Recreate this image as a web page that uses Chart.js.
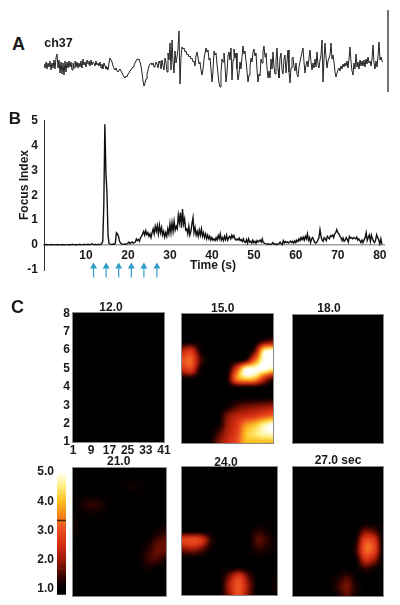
<!DOCTYPE html>
<html lang="en">
  <head>
    <meta charset="UTF-8" />
    <title>Focus index</title>
    <script src="https://cdn.jsdelivr.net/npm/chart.js@4"></script>
    <style>
      body {
        margin: 0;
        background: white;
        width: 400px;
        height: 605px;
        overflow: hidden;
        position: relative;
      }
      canvas {
        position: absolute;
      }
      .label {
        position: absolute;
        font-family: "Liberation Sans", sans-serif;
        font-weight: bold;
        color: #1a1a1a;
        white-space: nowrap;
        line-height: 1;
      }
    </style>
  </head>

  <body>
    <script>
      // ch37 trace, one value per pixel column of the picture
      const traceA = [
        1,-3,3,-4,2,-2,4,-5,2,-3,5,-4,7,
        11,-3,5,-8,3,-9,2,-10,4,-7,3,-3,4,-2,3,-5,2,-3,4,-2,3,
        -3,2,-2,4,-3,6,0,3,-2,5,1,4,-1,5,0,3,2,-1,4,0,2,-1,3,-3,1,-4,2,-1,-4,-2,-5,2,
        7,5,3,-1,-3,-5,-3,-6,-7,-5,-4,-6,-8,-10,-12,-13,-11,-12,-9,-8,-6,-5,-3,-2,0,2,4,6,6,5,
        3,-1,-8,-16,-21,-18,-14,-9,-5,-1,1,2,
        0,2,-2,-1,3,1,-3,4,2,-4,5,-1,-5,7,3,-7,12,5,22,-5,25,3,-8,14,2,8,16,34,-19,8,
        18,16,17,13,14,10,11,8,9,6,7,3,4,-1,9,13,8,1,3,-5,-10,-4,6,12,17,13,15,5,7,-4,
        -17,-6,14,10,12,1,-9,-18,-22,-7,6,3,12,-1,-17,-8,9,13,5,17,-15,5,16,7,12,-4,-15,-9,3,-4,
        8,19,11,14,4,-6,-17,-10,-2,7,3,13,16,9,12,-5,-17,-9,-11,6,2,14,19,8,12,-3,-13,-6,-13,6,
        -4,13,-2,-9,5,17,-4,-13,7,12,-5,-9,6,10,-8,4,15,-7,-18,-3,6,8,-2,-6,2,-9,-12,-2,3,8,
        13,17,3,-8,0,4,-2,7,15,3,-5,2,-3,6,-2,13,1,-3,5,10,25,-17,6,22,8,-3,4,7,10,22,
        6,10,3,-7,-12,-8,-5,-3,-6,-1,-4,1,-2,2,-1,4,-3,6,18,3,-6,-10,2,-4,11,-2,3,-4,5,-1,
        4,-1,5,-2,6,1,8,2,4,-1,6,20,2,-4,4,-2,9,23,5,8,4,3,
      ];
      const scaleBar = [55, -27];
      const scaleBarAt = 344;

      // focus index, four values per second from 0 to 80.5 s
      const focusIndex = [
        0.02,0.01,0.02,0.01,0.02,0.02,0.01,0.02,0.01,0.02,0.02,0.01,0.01,0.02,0.01,0.02,0.02,0.01,0.02,0.01,
        0.01,0.02,0.02,0.01,0.02,0.01,0.02,0.03,0.02,0.01,0.02,0.01,0.02,0.02,0.03,0.02,0.01,0.02,0.03,0.02,
        0.02,0.03,0.02,0.03,0.02,0.03,0.05,0.03,0.02,0.03,0.02,0.02,0.03,0.02,0.03,0.06,0.15,1.6,4.85,2.9,
        2.1,0.4,0.06,0.04,0.03,0.03,0.04,0.03,0.08,0.5,0.45,0.35,0.15,0.08,0.05,0.04,0.03,0.04,0.03,0.05,
        0.08,0.12,0.06,0.1,0.13,0.08,0.1,0.12,0.25,0.18,0.22,0.15,0.3,0.35,0.45,0.55,0.4,0.58,0.42,0.5,
        0.35,0.45,0.3,0.5,0.65,0.45,0.75,0.55,0.78,0.45,0.8,0.5,0.7,0.4,0.55,0.32,0.5,0.35,0.65,0.45,
        0.85,0.5,0.9,0.55,0.95,0.6,0.75,0.65,1.2,0.9,1.3,0.7,1.45,0.85,1.05,0.6,0.65,0.45,0.75,0.4,
        0.55,0.85,1.1,0.5,0.7,0.4,0.55,0.35,0.6,0.4,0.65,0.35,0.5,0.3,0.45,0.25,0.4,0.25,0.35,0.2,
        0.3,0.2,0.25,0.18,0.3,0.2,0.38,0.25,0.45,0.2,0.3,0.18,0.35,0.22,0.4,0.2,0.3,0.35,0.25,0.4,
        0.3,0.38,0.25,0.2,0.25,0.2,0.28,0.18,0.22,0.15,0.25,0.12,0.1,0.22,0.08,0.25,0.12,0.15,0.08,0.2,
        0.1,0.15,0.07,0.18,0.12,0.17,0.2,0.12,0.25,0.1,0.08,0.06,0.05,0.03,0.05,0.04,0.03,0.04,0.1,0.06,
        0.03,0.05,0.02,0.04,0.06,0.12,0.05,0.02,0.18,0.08,0.15,0.1,0.13,0.08,0.12,0.16,0.1,0.15,0.08,0.17,
        0.1,0.2,0.15,0.25,0.18,0.3,0.22,0.32,0.2,0.35,0.25,0.45,0.2,0.3,0.1,0.25,0.3,0.2,0.1,0.08,
        0.12,0.2,0.3,0.62,0.35,0.2,0.15,0.3,0.25,0.18,0.35,0.3,0.25,0.38,0.35,0.4,0.3,0.45,0.5,0.62,
        0.5,0.45,0.35,0.3,0.18,0.28,0.15,0.2,0.3,0.22,0.12,0.35,0.28,0.3,0.25,0.3,0.28,0.25,0.32,0.2,
        0.25,0.18,0.1,0.2,0.1,0.2,0.3,0.5,0.18,0.3,0.4,0.15,0.4,0.25,0.15,0.1,0.2,0.42,0.3,0.2,
        0.05,0.25,0.03,
      ];
      const timeTicks = [10, 20, 30, 40, 50, 60, 70, 80];
      const focusTicks = [-1, 0, 1, 2, 3, 4, 5];
      const arrowTimes = [11.8, 14.8, 17.8, 20.8, 23.8, 26.9];

      // heat maps: rows from channel row 8 down to 1 (step 0.5), columns 1 to 41 (step 4)
      const heatBlank = [];
      const heat15 = [
        [1,1,1,1,1,1,1,1,1,1,1],
        [1,1,1,1,1,1,1,1,1,1,1],
        [1,1,1,1,1,1,1,1,1,1,1],
        [1,1,1,1,1,1,1,1,1,1.5,1.8],
        [2.2,2.6,1.2,1,1,1,1,1,1.6,4.6,5],
        [3,3.2,1.6,1,1,1,1,1.3,3.2,5,5],
        [2.4,2.8,1.2,1,1,1,2.8,5,5,5,4.5],
        [1.1,1.1,1,1,1,1.2,3.5,4.2,4,2.5,1.5],
        [1,1,1,1,1,1,1,1,1,1,1],
        [1,1,1,1,1,1,1,1,1,1,1.1],
        [1,1,1,1,1,1.1,1.5,1.7,1.8,1.9,2],
        [1,1,1,1,1,1.8,2.2,2.4,2.6,2.9,3.2],
        [1,1,1,1,1.1,2,2.6,3.6,4,4.6,5],
        [1,1,1,1,1.5,2.2,2.8,4,4.4,4.7,4.8],
        [1,1,1,1,1.8,2.4,3,3.9,3.9,3.9,3.9],
      ];
      const heat21 = [
        [1,1,1,1,1,1,1,1,1,1,1],
        [1,1,1,1,1,1,1,1,1,1,1],
        [1,1,1,1,1,1,1.1,1.1,1,1,1],
        [1,1,1,1,1,1,1,1,1,1,1],
        [1,1.2,1.4,1.25,1,1,1,1,1,1,1],
        [1.05,1.05,1.1,1.05,1,1,1,1,1,1,1],
        [1.2,1,1,1,1,1,1,1,1,1,1],
        [1.15,1,1,1,1,1,1,1,1,1.15,1.35],
        [1,1,1,1,1,1,1,1,1.1,1.5,1.65],
        [1,1,1,1,1,1,1,1,1.3,1.65,1.65],
        [1,1,1,1,1,1,1,1,1.4,1.5,1.25],
        [1,1,1,1,1,1,1,1,1.15,1.05,1],
        [1,1,1,1,1,1,1,1,1,1,1],
        [1,1,1,1,1,1,1,1,1,1,1],
        [1,1,1,1,1,1,1,1,1,1,1],
      ];
      const heat24 = [
        [1,1,1,1,1,1,1,1,1,1,1],
        [1,1,1,1,1,1,1,1,1,1,1],
        [1,1,1,1,1,1,1,1,1,1,1],
        [1,1,1,1,1,1,1,1,1,1,1],
        [1,1,1,1,1,1,1,1,1,1,1],
        [1,1,1,1,1,1,1,1,1,1,1],
        [1,1,1,1,1,1,1,1,1,1,1],
        [1,1,1,1,1,1,1,1,1.3,1.15,1],
        [2.8,3,2.7,1.4,1,1,1,1,1.6,1.35,1],
        [1.8,2,1.7,1.1,1,1,1,1,1.35,1.2,1],
        [1,1,1,1,1,1,1,1,1,1,1],
        [1,1,1,1,1,1,1.1,1,1,1,1],
        [1,1,1,1,1,1.8,2.7,1.6,1,1,1.1],
        [1,1,1,1,1,2.2,3.1,1.9,1,1,1.2],
        [1,1,1,1,1,2,3,1.7,1,1,1.05],
      ];
      const heat27 = [
        [1,1,1,1,1,1,1,1,1,1,1],
        [1,1,1,1,1,1,1,1,1,1,1],
        [1,1,1,1,1,1,1,1,1,1,1],
        [1,1,1,1,1,1,1,1,1,1,1],
        [1,1,1,1,1,1,1,1,1,1,1],
        [1,1,1,1,1,1,1,1,1,1,1],
        [1,1,1,1,1,1,1,1,1,1,1],
        [1,1,1,1,1,1,1,1,1.8,1.6,1],
        [1,1,1,1,1,1,1,1.2,2.9,2.7,1],
        [1,1,1,1,1,1,1,1.4,3.2,2.9,1],
        [1,1,1,1,1,1,1,1.1,2.5,2.1,1],
        [1,1,1,1,1,1,1,1,1.4,1.2,1],
        [1,1,1,1,1,1.2,1.5,1.1,1,1,1],
        [1,1,1,1,1,1.4,1.75,1.25,1,1,1],
        [1,1,1,1,1,1.15,1.6,1.15,1,1,1],
      ];
      const channelTicksX = [1, 9, 17, 25, 33, 41];
      const channelTicksY = [1, 2, 3, 4, 5, 6, 7, 8];

      // colour scale
      const heatLevels = [1, 1.3, 1.6, 2, 2.5, 3, 3.5, 4, 4.5, 5];
      const heatColors = [
        [0, 0, 0], [32, 2, 0], [90, 10, 0], [160, 26, 8], [212, 47, 18],
        [234, 74, 31], [245, 133, 30], [253, 192, 32], [255, 240, 128], [255, 255, 255],
      ];
      const colorbarSteps = [
        0.8,0.9,1,1.1,1.2,1.3,1.4,1.5,1.6,1.7,1.8,1.9,2,2.1,2.2,2.3,2.4,2.5,2.6,2.7,2.8,
        2.9,3,3.1,3.2,3.3,3.4,3.5,3.6,3.7,3.8,3.9,4,4.1,4.2,4.3,4.4,4.5,4.6,4.7,4.8,4.9,5,
      ];
      const colorbarTicks = [1, 2, 3, 4, 5];
      const colorbarMark = 3.34;

      const tickFont = { family: "Liberation Sans", weight: "bold", size: 12 };
      Chart.defaults.animation = false;
      Chart.defaults.responsive = false;
      Chart.defaults.font.family = "Liberation Sans";
      Chart.defaults.plugins.legend.display = false;
      Chart.defaults.plugins.tooltip.enabled = false;

      function addCanvas(left, top, width, height) {
        const canvas = document.createElement("canvas");
        canvas.width = width;
        canvas.height = height;
        canvas.style.left = left + "px";
        canvas.style.top = top + "px";
        document.body.appendChild(canvas);
        return canvas;
      }

      function addLabel(text, cx, cy, size, rotate) {
        const div = document.createElement("div");
        div.className = "label";
        div.textContent = text;
        div.style.left = cx + "px";
        div.style.top = cy + "px";
        div.style.fontSize = size + "px";
        div.style.transform = "translate(-50%,-50%)" + (rotate ? " rotate(-90deg)" : "");
        document.body.appendChild(div);
      }

      function heatColor(v) {
        if (v <= heatLevels[0]) return heatColors[0];
        for (let i = 1; i < heatLevels.length; i++) {
          if (v <= heatLevels[i]) {
            const f = (v - heatLevels[i - 1]) / (heatLevels[i] - heatLevels[i - 1]);
            const a = heatColors[i - 1];
            const b = heatColors[i];
            return [a[0] + (b[0] - a[0]) * f, a[1] + (b[1] - a[1]) * f, a[2] + (b[2] - a[2]) * f];
          }
        }
        return heatColors[heatColors.length - 1];
      }

      // catmull-rom weights, the picture is a smoothed map and not blocky cells
      function weights(t) {
        return [
          0.5 * (-t + 2 * t * t - t * t * t),
          0.5 * (2 - 5 * t * t + 3 * t * t * t),
          0.5 * (t + 4 * t * t - 3 * t * t * t),
          0.5 * (-t * t + t * t * t),
        ];
      }

      function sampleHeat(grid, col, row) {
        if (!grid.length) return 1;
        const rows = grid.length;
        const cols = grid[0].length;
        const c0 = Math.min(Math.floor(col), cols - 2);
        const r0 = Math.min(Math.floor(row), rows - 2);
        const wc = weights(col - c0);
        const wr = weights(row - r0);
        let sum = 0;
        for (let i = 0; i < 4; i++) {
          const r = Math.max(0, Math.min(rows - 1, r0 - 1 + i));
          for (let j = 0; j < 4; j++) {
            const c = Math.max(0, Math.min(cols - 1, c0 - 1 + j));
            sum += wr[i] * wc[j] * grid[r][c];
          }
        }
        return sum;
      }

      const heatPlugin = {
        id: "heat",
        beforeDatasetsDraw(chart, args, opts) {
          const ctx = chart.ctx;
          const area = chart.chartArea;
          const xs = chart.scales.x;
          const ys = chart.scales.y;
          const left = Math.round(area.left);
          const top = Math.round(area.top);
          const w = Math.round(area.right) - left;
          const h = Math.round(area.bottom) - top;
          const img = ctx.createImageData(w, h);
          for (let py = 0; py < h; py++) {
            for (let px = 0; px < w; px++) {
              const col = (xs.getValueForPixel(left + px + 0.5) - 1) / 4;
              const row = (8 - ys.getValueForPixel(top + py + 0.5)) / 0.5;
              const rgb = heatColor(sampleHeat(opts.grid, col, row));
              const k = (py * w + px) * 4;
              img.data[k] = rgb[0];
              img.data[k + 1] = rgb[1];
              img.data[k + 2] = rgb[2];
              img.data[k + 3] = 255;
            }
          }
          const buffer = document.createElement("canvas");
          buffer.width = w;
          buffer.height = h;
          buffer.getContext("2d").putImageData(img, 0, 0);
          ctx.save();
          ctx.beginPath();
          ctx.rect(left, top, w, h);
          ctx.clip();
          ctx.drawImage(buffer, left, top);
          ctx.filter = "blur(1.2px)";
          ctx.drawImage(buffer, left, top);
          ctx.restore();
          ctx.strokeStyle = "#8a8a8a";
          ctx.lineWidth = 1;
          ctx.strokeRect(left - 0.5, top - 0.5, w + 1, h + 1);
        },
      };

      const arrowPlugin = {
        id: "arrows",
        afterDatasetsDraw(chart) {
          const ctx = chart.ctx;
          const xs = chart.scales.x;
          const ys = chart.scales.y;
          ctx.save();
          ctx.strokeStyle = "#2f9fc8";
          ctx.fillStyle = "#2f9fc8";
          ctx.lineWidth = 1.2;
          arrowTimes.forEach((t) => {
            const x = xs.getPixelForValue(t);
            const tip = ys.getPixelForValue(-0.7);
            const end = ys.getPixelForValue(-1.3);
            ctx.beginPath();
            ctx.moveTo(x, tip + 4);
            ctx.lineTo(x, end);
            ctx.stroke();
            ctx.beginPath();
            ctx.moveTo(x, tip);
            ctx.lineTo(x - 3.5, tip + 6);
            ctx.lineTo(x + 3.5, tip + 6);
            ctx.closePath();
            ctx.fill();
          });
          ctx.restore();
        },
      };

      // panel A
      new Chart(addCanvas(44, 5, 350, 90), {
        type: "line",
        data: {
          datasets: [
            {
              data: traceA.map((v, i) => ({ x: i, y: v })),
              borderColor: "#222",
              borderWidth: 1,
              pointRadius: 0,
            },
            {
              data: scaleBar.map((v) => ({ x: scaleBarAt, y: v })),
              borderColor: "#444",
              borderWidth: 1.5,
              pointRadius: 0,
            },
          ],
        },
        options: {
          scales: {
            x: { type: "linear", display: false, min: 0, max: 350 },
            y: { display: false, min: -30, max: 60 },
          },
        },
      });

      // panel B
      new Chart(addCanvas(0, 105, 400, 200), {
        type: "line",
        data: {
          datasets: [
            {
              data: focusIndex.map((v, i) => ({ x: i / 4, y: v })),
              borderColor: "#111",
              borderWidth: 1.4,
              pointRadius: 0,
            },
          ],
        },
        plugins: [arrowPlugin],
        options: {
          layout: { padding: { top: 15.5, right: 16, bottom: 35, left: 0 } },
          scales: {
            x: {
              type: "linear",
              min: 0,
              max: 81,
              position: { y: 0 },
              afterBuildTicks: (s) => { s.ticks = timeTicks.map((v) => ({ value: v })); },
              grid: { display: false, drawTicks: true, tickLength: 2, tickColor: "#999" },
              border: { color: "#a0a0a0", width: 1.5 },
              ticks: { font: tickFont, color: "#1a1a1a", padding: 1, maxRotation: 0 },
            },
            y: {
              min: -1,
              max: 5,
              afterBuildTicks: (s) => { s.ticks = focusTicks.map((v) => ({ value: v })); },
              afterFit: (s) => { s.width = 44; },
              grid: { display: false, drawTicks: true, tickLength: 3, tickColor: "#333" },
              border: { color: "#333", width: 1 },
              ticks: { font: tickFont, color: "#1a1a1a", padding: 3 },
            },
          },
        },
      });

      // panel C
      function heatPanel(grid, left, top, width, height, withAxes) {
        new Chart(addCanvas(left - 20, top - 10, width + 30, height + 30), {
          type: "scatter",
          data: { datasets: [{ data: [], pointRadius: 0 }] },
          plugins: [heatPlugin],
          options: {
            plugins: { heat: { grid: grid } },
            layout: { padding: { top: 10, right: 10, left: 0, bottom: 0 } },
            scales: {
              x: {
                type: "linear",
                display: withAxes,
                min: 1,
                max: 41,
                afterBuildTicks: (s) => { s.ticks = channelTicksX.map((v) => ({ value: v })); },
                afterFit: (s) => { s.height = 20; },
                grid: { display: false, drawTicks: false },
                border: { display: false },
                ticks: { font: tickFont, color: "#1a1a1a", padding: 1, maxRotation: 0 },
              },
              y: {
                type: "linear",
                display: withAxes,
                min: 1,
                max: 8,
                afterBuildTicks: (s) => { s.ticks = channelTicksY.map((v) => ({ value: v })); },
                afterFit: (s) => { s.width = 20; },
                grid: { display: false, drawTicks: false },
                border: { display: false },
                ticks: { font: tickFont, color: "#1a1a1a", padding: 3 },
              },
            },
          },
        });
      }

      heatPanel(heatBlank, 73, 313, 91, 129, true);
      heatPanel(heat15, 182, 314, 91, 129, false);
      heatPanel(heatBlank, 293, 315, 90, 128, false);
      heatPanel(heat21, 73, 468, 93, 128, false);
      heatPanel(heat24, 182, 467, 95, 128, false);
      heatPanel(heat27, 293, 467, 90, 129, false);

      // colour bar, a stack of thin floating bars
      const barSets = colorbarSteps.slice(0, -1).map((v, i) => {
        const rgb = heatColor(v + 0.05);
        return {
          data: [[v, colorbarSteps[i + 1]]],
          backgroundColor: "rgb(" + rgb.map(Math.round).join(",") + ")",
          grouped: false,
          barPercentage: 1,
          categoryPercentage: 1,
        };
      });
      barSets.push({
        data: [[colorbarMark - 0.012, colorbarMark + 0.012]],
        backgroundColor: "#4a2a00",
        grouped: false,
        barPercentage: 1,
        categoryPercentage: 1,
        order: -1,
      });
      new Chart(addCanvas(0, 460, 70, 145), {
        type: "bar",
        data: { labels: ["scale"], datasets: barSets },
        options: {
          layout: { padding: { top: 12, right: 4, bottom: 8, left: 0 } },
          scales: {
            x: { display: false },
            y: {
              min: 0.8,
              max: 5,
              afterBuildTicks: (s) => { s.ticks = colorbarTicks.map((v) => ({ value: v })); },
              afterFit: (s) => { s.width = 57; },
              grid: { display: false, drawTicks: false },
              border: { display: false },
              ticks: { font: tickFont, color: "#1a1a1a", padding: 3, callback: (v) => v.toFixed(1) },
            },
          },
        },
      });

      addLabel("A", 18.5, 43.5, 18);
      addLabel("B", 15, 117.5, 17);
      addLabel("C", 17.5, 306.5, 18);
      addLabel("ch37", 58.5, 43, 12.5);
      addLabel("Focus Index", 24, 185, 12, true);
      addLabel("Time (s)", 213, 265, 12);
      addLabel("12.0", 111, 307, 12);
      addLabel("15.0", 222.7, 308, 12);
      addLabel("18.0", 329, 308, 12);
      addLabel("21.0", 118.7, 461, 12);
      addLabel("24.0", 226, 461.5, 12);
      addLabel("27.0 sec", 338, 460, 12);
    </script>
  </body>
</html>
